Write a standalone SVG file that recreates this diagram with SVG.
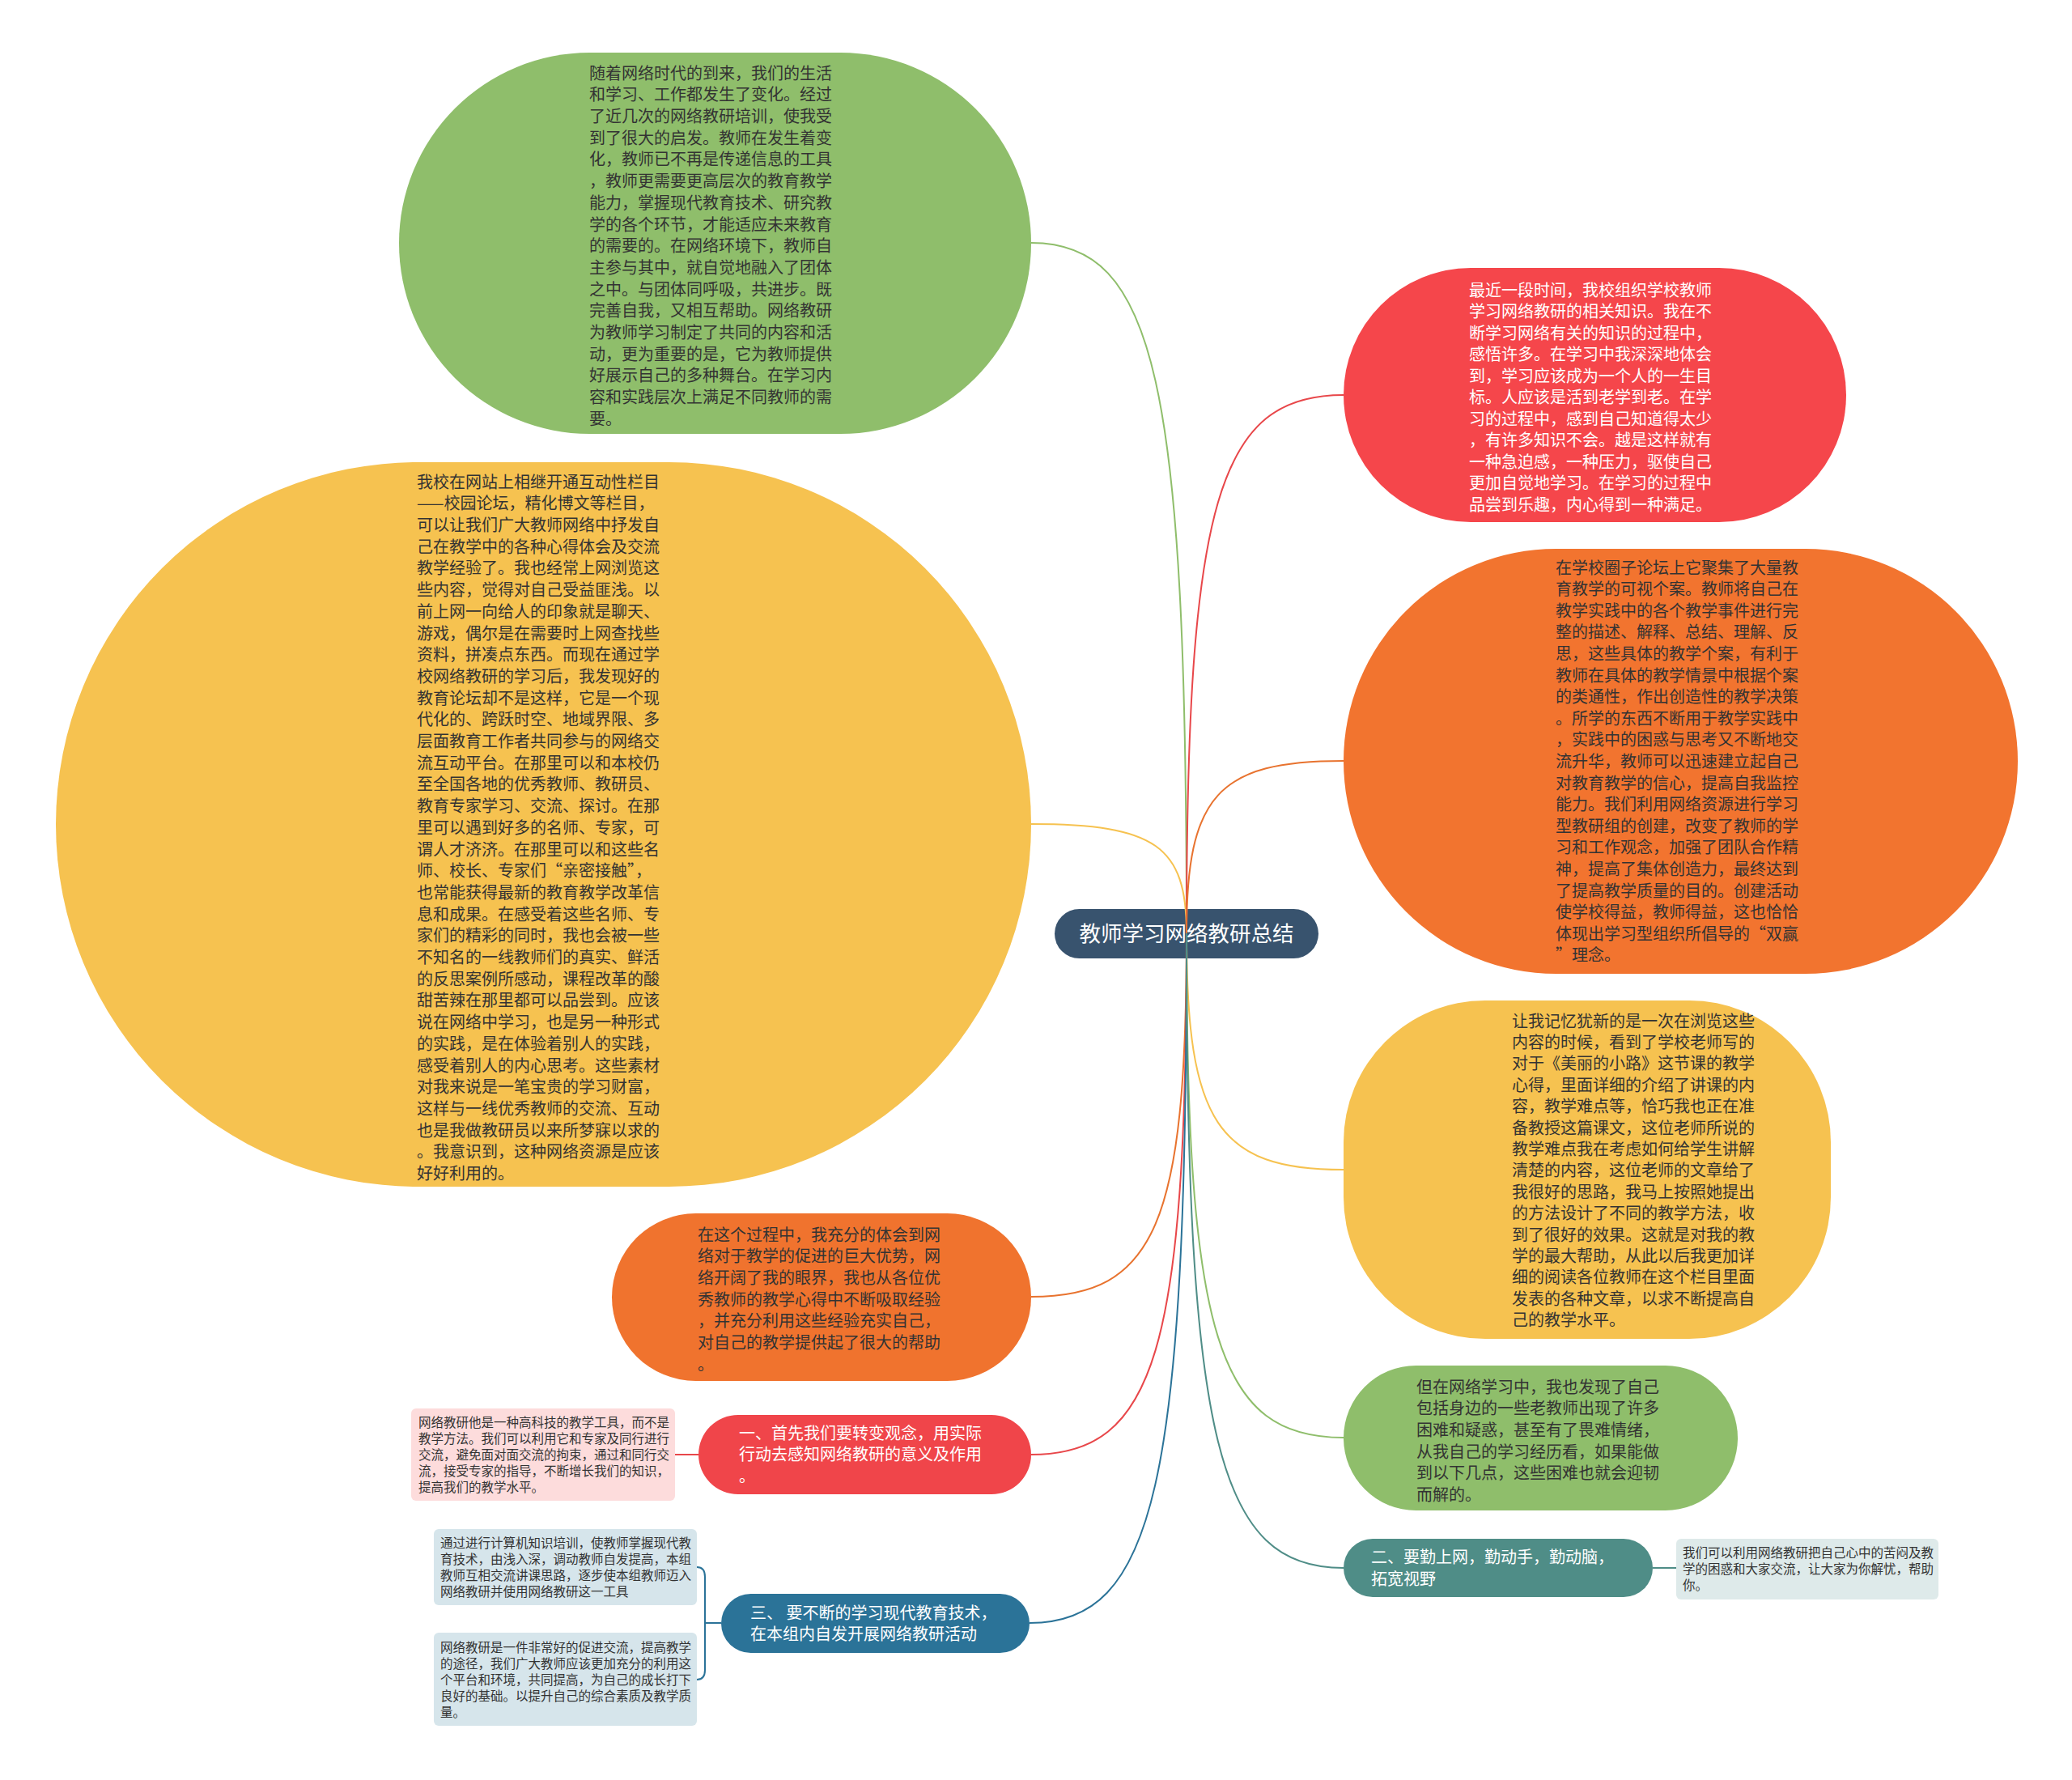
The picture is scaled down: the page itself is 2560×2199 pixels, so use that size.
<svg xmlns="http://www.w3.org/2000/svg" width="2560" height="2199" viewBox="0 0 2560 2199">
<style>
.t{font-family:"Noto Sans CJK SC","Noto Sans CJK TC","Noto Sans",sans-serif}
.b{font-size:20px;fill:#333}
.s{font-size:15.5px;fill:#333}
.w{fill:#fff}
.c{fill:none;stroke-width:2}
</style>
<rect width="2560" height="2199" fill="#fff"/>
<g id="root">
<rect x="1303" y="1123" width="326" height="61" rx="30.5" fill="#38536e"/>
<text class="t w" x="1466" y="1163" font-size="26.5" text-anchor="middle">教师学习网络教研总结</text>
</g>
<g id="n-green-top">
<rect x="493" y="65" width="781" height="471" rx="235.5" fill="#8fbe6b"/>
<text class="t b" x="728" y="97.6">
<tspan x="728" dy="0">随着网络时代的到来，我们的生活</tspan>
<tspan x="728" dy="26.7">和学习、工作都发生了变化。经过</tspan>
<tspan x="728" dy="26.7">了近几次的网络教研培训，使我受</tspan>
<tspan x="728" dy="26.7">到了很大的启发。教师在发生着变</tspan>
<tspan x="728" dy="26.7">化，教师已不再是传递信息的工具</tspan>
<tspan x="728" dy="26.7">，教师更需要更高层次的教育教学</tspan>
<tspan x="728" dy="26.7">能力，掌握现代教育技术、研究教</tspan>
<tspan x="728" dy="26.7">学的各个环节，才能适应未来教育</tspan>
<tspan x="728" dy="26.7">的需要的。在网络环境下，教师自</tspan>
<tspan x="728" dy="26.7">主参与其中，就自觉地融入了团体</tspan>
<tspan x="728" dy="26.7">之中。与团体同呼吸，共进步。既</tspan>
<tspan x="728" dy="26.7">完善自我，又相互帮助。网络教研</tspan>
<tspan x="728" dy="26.7">为教师学习制定了共同的内容和活</tspan>
<tspan x="728" dy="26.7">动，更为重要的是，它为教师提供</tspan>
<tspan x="728" dy="26.7">好展示自己的多种舞台。在学习内</tspan>
<tspan x="728" dy="26.7">容和实践层次上满足不同教师的需</tspan>
<tspan x="728" dy="26.7">要。</tspan>
</text>
</g>
<g id="n-yellow-left">
<rect x="69" y="571" width="1205" height="895" rx="447.5" fill="#f6c250"/>
<text class="t b" x="515" y="602.6">
<tspan x="515" dy="0">我校在网站上相继开通互动性栏目</tspan>
<tspan x="515" dy="26.7">——校园论坛，精化博文等栏目，</tspan>
<tspan x="515" dy="26.7">可以让我们广大教师网络中抒发自</tspan>
<tspan x="515" dy="26.7">己在教学中的各种心得体会及交流</tspan>
<tspan x="515" dy="26.7">教学经验了。我也经常上网浏览这</tspan>
<tspan x="515" dy="26.7">些内容，觉得对自己受益匪浅。以</tspan>
<tspan x="515" dy="26.7">前上网一向给人的印象就是聊天、</tspan>
<tspan x="515" dy="26.7">游戏，偶尔是在需要时上网查找些</tspan>
<tspan x="515" dy="26.7">资料，拼凑点东西。而现在通过学</tspan>
<tspan x="515" dy="26.7">校网络教研的学习后，我发现好的</tspan>
<tspan x="515" dy="26.7">教育论坛却不是这样，它是一个现</tspan>
<tspan x="515" dy="26.7">代化的、跨跃时空、地域界限、多</tspan>
<tspan x="515" dy="26.7">层面教育工作者共同参与的网络交</tspan>
<tspan x="515" dy="26.7">流互动平台。在那里可以和本校仍</tspan>
<tspan x="515" dy="26.7">至全国各地的优秀教师、教研员、</tspan>
<tspan x="515" dy="26.7">教育专家学习、交流、探讨。在那</tspan>
<tspan x="515" dy="26.7">里可以遇到好多的名师、专家，可</tspan>
<tspan x="515" dy="26.7">谓人才济济。在那里可以和这些名</tspan>
<tspan x="515" dy="26.7">师、校长、专家们“亲密接触”，</tspan>
<tspan x="515" dy="26.7">也常能获得最新的教育教学改革信</tspan>
<tspan x="515" dy="26.7">息和成果。在感受着这些名师、专</tspan>
<tspan x="515" dy="26.7">家们的精彩的同时，我也会被一些</tspan>
<tspan x="515" dy="26.7">不知名的一线教师们的真实、鲜活</tspan>
<tspan x="515" dy="26.7">的反思案例所感动，课程改革的酸</tspan>
<tspan x="515" dy="26.7">甜苦辣在那里都可以品尝到。应该</tspan>
<tspan x="515" dy="26.7">说在网络中学习，也是另一种形式</tspan>
<tspan x="515" dy="26.7">的实践，是在体验着别人的实践，</tspan>
<tspan x="515" dy="26.7">感受着别人的内心思考。这些素材</tspan>
<tspan x="515" dy="26.7">对我来说是一笔宝贵的学习财富，</tspan>
<tspan x="515" dy="26.7">这样与一线优秀教师的交流、互动</tspan>
<tspan x="515" dy="26.7">也是我做教研员以来所梦寐以求的</tspan>
<tspan x="515" dy="26.7">。我意识到，这种网络资源是应该</tspan>
<tspan x="515" dy="26.7">好好利用的。</tspan>
</text>
</g>
<g id="n-orange-left">
<rect x="756" y="1499" width="518" height="207" rx="103.5" fill="#f0732e"/>
<text class="t b" x="862" y="1532.6">
<tspan x="862" dy="0">在这个过程中，我充分的体会到网</tspan>
<tspan x="862" dy="26.7">络对于教学的促进的巨大优势，网</tspan>
<tspan x="862" dy="26.7">络开阔了我的眼界，我也从各位优</tspan>
<tspan x="862" dy="26.7">秀教师的教学心得中不断吸取经验</tspan>
<tspan x="862" dy="26.7">，并充分利用这些经验充实自己，</tspan>
<tspan x="862" dy="26.7">对自己的教学提供起了很大的帮助</tspan>
<tspan x="862" dy="26.7">。</tspan>
</text>
</g>
<g id="n-red-1">
<rect x="863" y="1748" width="411" height="98" rx="49" fill="#f0454a"/>
<text class="t w" font-size="20" x="913" y="1777.6">
<tspan x="913" dy="0">一、首先我们要转变观念，用实际</tspan>
<tspan x="913" dy="26.7">行动去感知网络教研的意义及作用</tspan>
<tspan x="913" dy="26.7">。</tspan>
</text>
</g>
<g id="n-pink">
<rect x="508" y="1740" width="326" height="114" rx="6" fill="#fddcdc"/>
<text class="t s" x="517" y="1763">
<tspan x="517" dy="0">网络教研他是一种高科技的教学工具，而不是</tspan>
<tspan x="517" dy="20">教学方法。我们可以利用它和专家及同行进行</tspan>
<tspan x="517" dy="20">交流，避免面对面交流的拘束，通过和同行交</tspan>
<tspan x="517" dy="20">流，接受专家的指导，不断增长我们的知识，</tspan>
<tspan x="517" dy="20">提高我们的教学水平。</tspan>
</text>
</g>
<g id="n-blue-3">
<rect x="891" y="1969" width="381" height="73" rx="36.5" fill="#2b7398"/>
<text class="t w" font-size="20" x="927" y="1999.6">
<tspan x="927" dy="0">三、 要不断的学习现代教育技术，</tspan>
<tspan x="927" dy="26.7">在本组内自发开展网络教研活动</tspan>
</text>
</g>
<g id="n-blue-box-1">
<rect x="536" y="1889" width="325" height="94" rx="6" fill="#d6e5eb"/>
<text class="t s" x="544" y="1912">
<tspan x="544" dy="0">通过进行计算机知识培训，使教师掌握现代教</tspan>
<tspan x="544" dy="20">育技术，由浅入深，调动教师自发提高，本组</tspan>
<tspan x="544" dy="20">教师互相交流讲课思路，逐步使本组教师迈入</tspan>
<tspan x="544" dy="20">网络教研并使用网络教研这一工具</tspan>
</text>
</g>
<g id="n-blue-box-2">
<rect x="536" y="2017" width="325" height="115" rx="6" fill="#d6e5eb"/>
<text class="t s" x="544" y="2040.5">
<tspan x="544" dy="0">网络教研是一件非常好的促进交流，提高教学</tspan>
<tspan x="544" dy="20">的途径，我们广大教师应该更加充分的利用这</tspan>
<tspan x="544" dy="20">个平台和环境，共同提高，为自己的成长打下</tspan>
<tspan x="544" dy="20">良好的基础。以提升自己的综合素质及教学质</tspan>
<tspan x="544" dy="20">量。</tspan>
</text>
</g>
<g id="n-red-right">
<rect x="1660" y="331" width="621" height="314" rx="157" fill="#f5464b"/>
<text class="t w" font-size="20" x="1815" y="365.6">
<tspan x="1815" dy="0">最近一段时间，我校组织学校教师</tspan>
<tspan x="1815" dy="26.5">学习网络教研的相关知识。我在不</tspan>
<tspan x="1815" dy="26.5">断学习网络有关的知识的过程中，</tspan>
<tspan x="1815" dy="26.5">感悟许多。在学习中我深深地体会</tspan>
<tspan x="1815" dy="26.5">到，学习应该成为一个人的一生目</tspan>
<tspan x="1815" dy="26.5">标。人应该是活到老学到老。在学</tspan>
<tspan x="1815" dy="26.5">习的过程中，感到自己知道得太少</tspan>
<tspan x="1815" dy="26.5">，有许多知识不会。越是这样就有</tspan>
<tspan x="1815" dy="26.5">一种急迫感，一种压力，驱使自己</tspan>
<tspan x="1815" dy="26.5">更加自觉地学习。在学习的过程中</tspan>
<tspan x="1815" dy="26.5">品尝到乐趣，内心得到一种满足。</tspan>
</text>
</g>
<g id="n-orange-right">
<rect x="1660" y="678" width="833" height="525" rx="262.5" fill="#f2742f"/>
<text class="t b" x="1922" y="708.6">
<tspan x="1922" dy="0">在学校圈子论坛上它聚集了大量教</tspan>
<tspan x="1922" dy="26.6">育教学的可视个案。教师将自己在</tspan>
<tspan x="1922" dy="26.6">教学实践中的各个教学事件进行完</tspan>
<tspan x="1922" dy="26.6">整的描述、解释、总结、理解、反</tspan>
<tspan x="1922" dy="26.6">思，这些具体的教学个案，有利于</tspan>
<tspan x="1922" dy="26.6">教师在具体的教学情景中根据个案</tspan>
<tspan x="1922" dy="26.6">的类通性，作出创造性的教学决策</tspan>
<tspan x="1922" dy="26.6">。所学的东西不断用于教学实践中</tspan>
<tspan x="1922" dy="26.6">，实践中的困惑与思考又不断地交</tspan>
<tspan x="1922" dy="26.6">流升华，教师可以迅速建立起自己</tspan>
<tspan x="1922" dy="26.6">对教育教学的信心，提高自我监控</tspan>
<tspan x="1922" dy="26.6">能力。我们利用网络资源进行学习</tspan>
<tspan x="1922" dy="26.6">型教研组的创建，改变了教师的学</tspan>
<tspan x="1922" dy="26.6">习和工作观念，加强了团队合作精</tspan>
<tspan x="1922" dy="26.6">神，提高了集体创造力，最终达到</tspan>
<tspan x="1922" dy="26.6">了提高教学质量的目的。创建活动</tspan>
<tspan x="1922" dy="26.6">使学校得益，教师得益，这也恰恰</tspan>
<tspan x="1922" dy="26.6">体现出学习型组织所倡导的“双赢</tspan>
<tspan x="1922" dy="26.6">”理念。</tspan>
</text>
</g>
<g id="n-yellow-right">
<rect x="1660" y="1236" width="602" height="418" rx="175" fill="#f6c250"/>
<text class="t b" x="1868" y="1268.6">
<tspan x="1868" dy="0">让我记忆犹新的是一次在浏览这些</tspan>
<tspan x="1868" dy="26.4">内容的时候，看到了学校老师写的</tspan>
<tspan x="1868" dy="26.4">对于《美丽的小路》这节课的教学</tspan>
<tspan x="1868" dy="26.4">心得，里面详细的介绍了讲课的内</tspan>
<tspan x="1868" dy="26.4">容，教学难点等，恰巧我也正在准</tspan>
<tspan x="1868" dy="26.4">备教授这篇课文，这位老师所说的</tspan>
<tspan x="1868" dy="26.4">教学难点我在考虑如何给学生讲解</tspan>
<tspan x="1868" dy="26.4">清楚的内容，这位老师的文章给了</tspan>
<tspan x="1868" dy="26.4">我很好的思路，我马上按照她提出</tspan>
<tspan x="1868" dy="26.4">的方法设计了不同的教学方法，收</tspan>
<tspan x="1868" dy="26.4">到了很好的效果。这就是对我的教</tspan>
<tspan x="1868" dy="26.4">学的最大帮助，从此以后我更加详</tspan>
<tspan x="1868" dy="26.4">细的阅读各位教师在这个栏目里面</tspan>
<tspan x="1868" dy="26.4">发表的各种文章，以求不断提高自</tspan>
<tspan x="1868" dy="26.4">己的教学水平。</tspan>
</text>
</g>
<g id="n-green-bottom">
<rect x="1660" y="1687" width="487" height="179" rx="89.5" fill="#8fbe6b"/>
<text class="t b" x="1750" y="1720.6">
<tspan x="1750" dy="0">但在网络学习中，我也发现了自己</tspan>
<tspan x="1750" dy="26.7">包括身边的一些老教师出现了许多</tspan>
<tspan x="1750" dy="26.7">困难和疑惑，甚至有了畏难情绪，</tspan>
<tspan x="1750" dy="26.7">从我自己的学习经历看，如果能做</tspan>
<tspan x="1750" dy="26.7">到以下几点，这些困难也就会迎韧</tspan>
<tspan x="1750" dy="26.7">而解的。</tspan>
</text>
</g>
<g id="n-teal-2">
<rect x="1660" y="1901" width="382" height="72" rx="36" fill="#4f8d87"/>
<text class="t w" font-size="20" x="1694" y="1931.2">
<tspan x="1694" dy="0">二、要勤上网，勤动手，勤动脑，</tspan>
<tspan x="1694" dy="26.7">拓宽视野</tspan>
</text>
</g>
<g id="n-teal-box">
<rect x="2071" y="1901" width="324" height="75" rx="6" fill="#deeaea"/>
<text class="t s" x="2079" y="1924.4">
<tspan x="2079" dy="0">我们可以利用网络教研把自己心中的苦闷及教</tspan>
<tspan x="2079" dy="20">学的困惑和大家交流，让大家为你解忧，帮助</tspan>
<tspan x="2079" dy="20">你。</tspan>
</text>
</g>
<g id="connectors">
<path class="c" stroke="#8fbe6b" d="M1466 1153 C1466 470.6 1427.6 300 1274 300"/>
<path class="c" stroke="#f6c250" d="M1466 1153 C1466 1045 1427.6 1018 1274 1018"/>
<path class="c" stroke="#e8732f" d="M1466 1153 C1466 1512 1427.6 1602 1274 1602"/>
<path class="c" stroke="#e8474a" d="M1466 1153 C1466 1668 1427.6 1797 1274 1797"/>
<path class="c" stroke="#2b7398" d="M1466 1153 C1466 1834.6 1427.2 2005 1272 2005"/>
<path class="c" stroke="#e8474a" d="M1466 1153 C1466 621 1504.8 488 1660 488"/>
<path class="c" stroke="#e8732f" d="M1466 1153 C1466 982.6 1504.8 940 1660 940"/>
<path class="c" stroke="#f6c250" d="M1466 1153 C1466 1386.6 1504.8 1445 1660 1445"/>
<path class="c" stroke="#8fbe6b" d="M1466 1153 C1466 1651.4 1504.8 1776 1660 1776"/>
<path class="c" stroke="#4f8d87" d="M1466 1153 C1466 1780.2 1504.8 1937 1660 1937"/>
<path class="c" stroke="#e8474a" stroke-width="2.5" d="M834 1797 L863 1797"/>
<path class="c" stroke="#4f8d87" stroke-width="2.5" d="M2042 1937 L2071 1937"/>
<path class="c" stroke="#2b7398" d="M861 1936 Q871 1936 871 1948 L871 2063 Q871 2075 861 2075 M871 2005 L891 2005"/>
</g>
</svg>
